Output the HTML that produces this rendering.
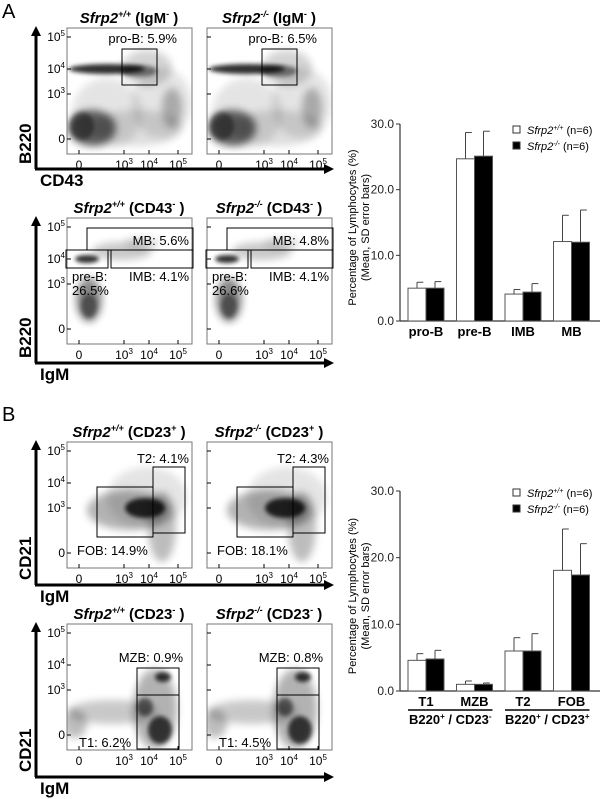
<!DOCTYPE html>
<html><head><meta charset="utf-8">
<style>
body{margin:0;background:#fff;}
svg{display:block;font-family:"Liberation Sans",Arial,sans-serif;}
</style></head>
<body>
<svg id="fig" width="600" height="799" viewBox="0 0 600 799">
<defs>
<filter id="b4" x="-50%" y="-50%" width="200%" height="200%"><feGaussianBlur stdDeviation="4"/></filter>
<filter id="b2" x="-50%" y="-50%" width="200%" height="200%"><feGaussianBlur stdDeviation="2"/></filter>
<clipPath id="cp"><rect x="0" y="0" width="125" height="126"/></clipPath>
</defs>
<text x="2" y="18" font-size="20">A</text>
<text x="2" y="421" font-size="20">B</text>
<g id="flows"></g>
<g id="bars"></g>
</svg>
<script>
const NS='http://www.w3.org/2000/svg';
const fig=document.getElementById('fig');
function mk(tag,attrs,parent,txt){const e=document.createElementNS(NS,tag);for(const k in attrs)e.setAttribute(k,attrs[k]);if(txt!==undefined)e.textContent=txt;(parent||fig).appendChild(e);return e;}

/* ---------- flow plots ---------- */
const flows=document.getElementById('flows');
const rows=[
 {top:28,axisY:169,title:['(IgM',' )','-'],yl:'B220',xl:'CD43'},
 {top:218,axisY:363,title:['(CD43',' )','-'],yl:'B220',xl:'IgM'},
 {top:442,axisY:585,title:['(CD23',' )','+'],yl:'CD21',xl:'IgM'},
 {top:624,axisY:777,title:['(CD23',' )','-'],yl:'CD21',xl:'IgM'}
];
const plotX=[67,207];
const yTicks=[9,41,66,111];
const yTickLab=['10','10','10','0'];
const yTickSup=['5','4','3',''];
const xTicks=[12,57,82,111];
// blobs per row: [cx,cy,rx,ry,opacity,sharp]
const blobs=[
 [[40,85,35,35,0.12,0],[95,75,30,35,0.12,0],[40,41,38,5,0.95,1],[72,43,18,6,0.55,1],[80,40,25,18,0.2,0],[25,100,24,18,0.7,0],[15,98,12,14,0.5,1],[70,100,45,18,0.15,0],[105,80,10,20,0.3,0]],
 [[20,41,12,4,0.95,1],[55,33,30,9,0.25,0],[75,25,18,6,0.15,0],[22,82,13,22,0.55,0],[22,88,8,12,0.5,1]],
 [[78,66,20,10,0.95,1],[62,68,42,20,0.35,0],[95,85,14,35,0.3,0],[80,55,40,30,0.12,0]],
 [[96,53,8,5,0.9,1],[78,83,8,9,0.6,1],[93,106,12,14,0.85,1],[45,88,45,12,0.25,0],[8,100,12,14,0.3,0],[88,85,22,40,0.35,0]]
];
const gates=[
 [[55,21,35,36]],
 [[20,10,106,22],[-1,32,42,18],[44,32,82,18]],
 [[30,45,56,50],[86,25,32,66]],
 [[70,44,42,27],[70,71,42,54]]
];
const labs=[
 [['pro-B: 5.9%','pro-B: 6.5%',110,15,'end']],
 [['MB: 5.6%','MB: 4.8%',122,27,'end'],['pre-B:','pre-B:',5,63,'start'],['26.5%','26.6%',5,77,'start'],['IMB: 4.1%','IMB: 4.1%',122,63,'end']],
 [['T2: 4.1%','T2: 4.3%',122,21,'end'],['FOB: 14.9%','FOB: 18.1%',10,113,'start']],
 [['MZB: 0.9%','MZB: 0.8%',116,38,'end'],['T1: 6.2%','T1: 4.5%',12,123,'start']]
];
rows.forEach((r,ri)=>{
  const ax=mk('g',{},flows);
  
  
  mk('line',{x1:36,y1:r.axisY,x2:36,y2:r.top+6,stroke:'#000','stroke-width':3},ax);
  mk('polygon',{points:`31,${r.top+8} 41,${r.top+8} 36,${r.top-2}`,fill:'#000'},ax);
  mk('line',{x1:35,y1:r.axisY,x2:326,y2:r.axisY,stroke:'#000','stroke-width':3},ax);
  mk('polygon',{points:`324,${r.axisY-5} 324,${r.axisY+5} 334,${r.axisY}`,fill:'#000'},ax);
  const yl=mk('text',{x:0,y:0,'font-size':17,'font-weight':'bold',transform:`translate(31,${r.axisY-5}) rotate(-90)`},ax,r.yl);
  
  
  const xl=mk('text',{x:40,y:r.axisY+17,'font-size':17,'font-weight':'bold'},ax,r.xl);
  
  
  plotX.forEach((px,pi)=>{
    const g=mk('g',{transform:`translate(${px},${r.top})`},flows);
    
    
    const t=mk('text',{x:62,y:-5,'font-size':15,'font-weight':'bold','text-anchor':'middle'},g);
    
    
    mk('tspan',{'font-style':'italic'},t,'Sfrp2');
    mk('tspan',{'font-style':'italic','font-size':9,dy:-6},t,pi?'-/-':'+/+');
    mk('tspan',{dy:6},t,' '+r.title[0]);
    mk('tspan',{'font-size':9,dy:-6},t,r.title[2]);
    mk('tspan',{dy:6},t,r.title[1]);
    const cg=mk('g',{'clip-path':'url(#cp)'},g);
    blobs[ri].forEach(b=>{
      mk('ellipse',{cx:b[0],cy:b[1],rx:b[2],ry:b[3],fill:'#000',opacity:b[4]*0.85,filter:b[5]?'url(#b2)':'url(#b4)'},cg);
    });
    mk('rect',{x:0,y:0,width:125,height:126,fill:'none',stroke:'#777','stroke-width':1},g);
    gates[ri].forEach(q=>{mk('rect',{x:q[0],y:q[1],width:q[2],height:q[3],fill:'none',stroke:'#000','stroke-width':1},g);});
    labs[ri].forEach(l=>{
      const tx=mk('text',{x:l[2],y:l[3],'font-size':13,'text-anchor':l[4]},g,pi?l[1]:l[0]);
      
      
    });
    yTicks.forEach((yy,i)=>{
      mk('line',{x1:0,x2:4,y1:yy,y2:yy,stroke:'#000'},g);
      if(pi===0){const tt=mk('text',{x:-2,y:yy+4,'font-size':12,'text-anchor':'end'},g,yTickLab[i]);if(yTickSup[i])mk('tspan',{'font-size':8,dy:-5},tt,yTickSup[i]);}
    });
    const xl2=['0','10','10','10'],xs=['','3','4','5'];
    xTicks.forEach((xx,i)=>{const tt=mk('text',{x:xx,y:141,'font-size':12,'text-anchor':'middle'},g,xl2[i]);if(xs[i])mk('tspan',{'font-size':8,dy:-5},tt,xs[i]);mk('line',{x1:xx,x2:xx,y1:122,y2:126,stroke:'#000'},g);});
  });
});

/* ---------- bar charts ---------- */
const catsA=['pro-B','pre-B','IMB','MB'];
const wtA=[5.0,24.7,4.1,12.1];
const koA=[5.0,25.1,4.4,12.0];
const wtSdA=[0.9,4.0,0.7,4.0];
const koSdA=[1.0,3.8,1.3,4.9];
const catsB=['T1','MZB','T2','FOB'];
const wtB=[4.6,1.0,6.0,18.1];
const koB=[4.8,1.0,6.0,17.4];
const wtSdB=[1.0,0.5,2.0,6.2];
const koSdB=[1.3,0.2,2.6,4.7];
const yTickVals=[0,10,20,30];
const yTickText=['0.0','10.0','20.0','30.0'];
const groupLabels=['B220','B220'];
const bars=document.getElementById('bars');

function chart(id,y0,y30,cats,wt,ko,wsd,ksd,legY,groups){
  const g=mk('g',{},bars);
  
  
  const X0=400,X1=600;
  const ys=v=>y0-(v/30)*(y0-y30);
  const band=48.5;
  const xs=i=>408+band*i;
  mk('line',{x1:X0,y1:y0,x2:X0,y2:y30,stroke:'#333','stroke-width':1.2},g);
  mk('line',{x1:X0,y1:y0,x2:X1,y2:y0,stroke:'#333','stroke-width':1.2},g);
  yTickVals.forEach((v,i)=>{
    mk('line',{x1:X0-4,x2:X0,y1:ys(v),y2:ys(v),stroke:'#333'},g);
    const t=mk('text',{x:X0-6,y:ys(v)+4,'font-size':12,'text-anchor':'end',fill:'#222'},g,yTickText[i]);
    
    
  });
  const cy=(y0+y30)/2+5;
  const t1=mk('text',{'font-size':11,'text-anchor':'middle',transform:`translate(356,${cy}) rotate(-90)`},g,'Percentage of Lymphocytes (%)');
  
  
  const t2=mk('text',{'font-size':11,'text-anchor':'middle',transform:`translate(369,${cy}) rotate(-90)`},g,'(Mean, SD error bars)');
  
  
  const bw=18;
  cats.forEach((c,i)=>{
    [[wt,wsd,'#fff'],[ko,ksd,'#000']].forEach((s,j)=>{
      const x=xs(i)+j*bw, v=s[0][i], sd=s[1][i];
      const cx=x+bw/2;
      mk('line',{x1:cx,x2:cx,y1:ys(v),y2:ys(v+sd),stroke:'#444'},g);
      mk('line',{x1:cx,x2:cx+bw*0.35,y1:ys(v+sd),y2:ys(v+sd),stroke:'#444'},g);
      const r=mk('rect',{x:x,y:ys(v),width:bw,height:ys(0)-ys(v),fill:s[2],stroke:'#555','stroke-width':1},g);
      
      
    });
    const ct=mk('text',{x:xs(i)+bw,y:y0+15,'font-size':13,'font-weight':'bold','text-anchor':'middle'},g,c);
    
    
  });
  [['#fff','+/+'],['#000','-/-']].forEach((l,j)=>{
    const lg=mk('g',{},g);
    
    
    mk('rect',{x:513,y:legY+j*16-8,width:7,height:7,fill:l[0],stroke:'#333'},lg);
    const t=mk('text',{x:527,y:legY+j*16,'font-size':11},lg);
    mk('tspan',{'font-style':'italic'},t,'Sfrp2');
    mk('tspan',{'font-style':'italic','font-size':7,dy:-4},t,l[1]);
    mk('tspan',{dy:4},t,'  (n=6)');
  });
  if(groups){
    [[0,'-'],[2,'+']].forEach((gp,k)=>{
      const xa=xs(gp[0]), xb=xs(gp[0]+1)+2*bw;
      mk('line',{x1:xa,x2:xb,y1:y0+19,y2:y0+19,stroke:'#000','stroke-width':1.5},g);
      const gt=mk('text',{x:(xa+xb)/2,y:y0+33,'font-size':13,'font-weight':'bold','text-anchor':'middle'},g,groupLabels[k]);
      
      
      mk('tspan',{'font-size':8,dy:-5},gt,'+');
      mk('tspan',{dy:5},gt,' / CD23');
      mk('tspan',{'font-size':8,dy:-5},gt,gp[1]);
    });
  }
}
chart('bar-chart-a',321,124,catsA,wtA,koA,wtSdA,koSdA,134,false);
chart('bar-chart-b',691,491,catsB,wtB,koB,wtSdB,koSdB,497,true);
</script>
</body></html>
